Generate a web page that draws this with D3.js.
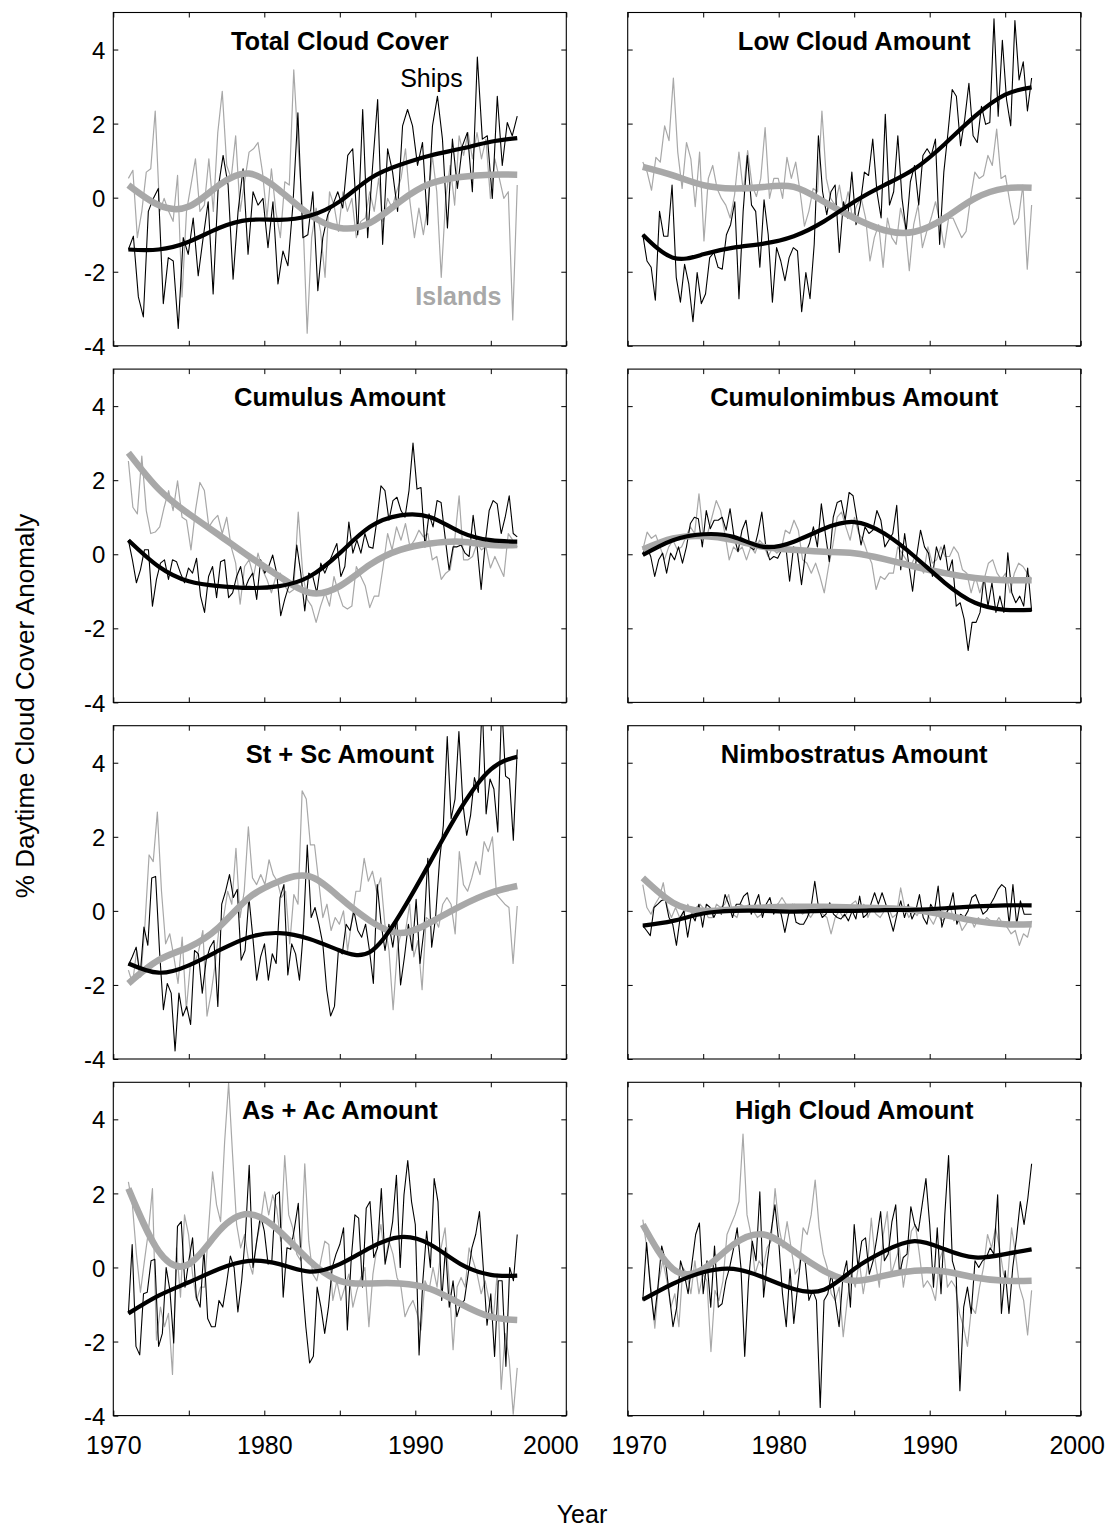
<!DOCTYPE html>
<html>
<head>
<meta charset="utf-8">
<script src="https://cdn.jsdelivr.net/npm/d3@7"></script>
<style>
  body { margin: 0; background: #fff; }
  text { font-family: "Liberation Sans", Arial, Helvetica, sans-serif; }
</style>
</head>
<body>
<div id="chart"></div>
<script>
// Seasonal anomaly series run from 1971 to late 1996
var yearStart = 1971;
var yearEnd = 1996.75;

// Years at which the smoothed (fitted) curves are read
var smoothYears = [1971, 1973, 1975, 1977, 1979, 1981, 1983, 1985, 1987, 1989, 1991, 1993, 1995, 1996.75];

var panelTitles = ["Total Cloud Cover", "Low Cloud Amount", "Cumulus Amount", "Cumulonimbus Amount",
  "St + Sc Amount", "Nimbostratus Amount", "As + Ac Amount", "High Cloud Amount"];

var yTicks = [-4, -2, 0, 2, 4];
var xTicks = [1970, 1975, 1980, 1985, 1990, 1995, 2000];
var xTickLabels = [1970, 1980, 1990, 2000];

// Total cloud cover
var totalShips = [-1.40,-1.04,-2.68,-3.22,-0.37,-0.02,0.25,-2.86,-1.62,-1.71,-3.53,-1.08,-1.53,-0.55,-2.11,-1.08,-0.11,-2.60,0.25,1.14,0.34,-2.20,-0.37,0.78,-1.53,0.16,-0.20,-0.02,-1.35,-0.11,-2.33,-1.44,-1.84,-0.20,2.29,-1.08,-1.00,0.16,-2.51,-1.08,-0.46,-0.20,0.16,-0.28,1.14,1.32,-1.00,2.38,-1.08,0.87,2.65,-1.26,1.32,0.69,-0.37,1.94,2.38,1.94,0.87,1.49,-0.73,1.94,2.74,1.58,-0.82,1.58,0.25,1.40,1.76,0.16,3.80,1.58,1.67,-0.02,2.74,0.87,2.03,1.67,2.20];
var totalIslands = [0.52,0.74,-1.08,-0.37,0.69,0.78,2.34,-0.37,-0.02,-0.37,-0.64,0.60,-2.68,-0.37,0.34,1.05,-0.37,-0.20,1.05,-0.37,1.76,2.87,0.87,0.52,1.67,-0.37,0.43,1.23,1.32,1.49,0.69,-0.55,0.78,-0.37,-1.08,0.43,0.34,3.45,1.32,-0.37,-3.66,-1.08,-0.28,-0.91,-2.15,0.16,-0.20,-0.91,0.16,-0.37,-0.02,-1.08,-0.64,-0.55,0.16,-0.37,0.52,-0.64,-0.02,-0.28,0.16,0.52,1.32,-0.11,-1.08,-0.28,-1.00,-0.20,1.14,0.16,-2.15,-0.02,0.87,-0.20,1.67,1.14,1.76,1.05,1.76,1.05,1.58,-0.02,1.05,0.52,-0.02,0.16,-3.30,0.34];
var totalShipsSmooth = [-1.40,-1.40,-1.19,-0.82,-0.60,-0.60,-0.49,-0.10,0.52,0.89,1.14,1.32,1.51,1.61];
var totalIslandsSmooth = [0.34,-0.20,-0.24,0.34,0.65,0.20,-0.46,-0.82,-0.68,-0.10,0.38,0.56,0.62,0.62];

// Low cloud amount
var lowShips = [-1.00,-1.71,-1.88,-2.77,-0.37,-1.04,-1.04,0.34,-2.15,-2.82,-1.80,-2.33,-3.35,-2.02,-2.86,-2.60,-1.62,-1.48,-1.88,-1.93,-1.00,-0.73,-0.11,-2.73,-0.37,1.14,-0.20,-0.37,-1.88,-0.06,-1.00,-2.82,-1.35,-1.71,-2.24,-1.62,-1.35,-1.44,-3.08,-2.02,-2.73,-1.26,1.67,0.16,-0.46,0.16,0.34,-1.48,-0.11,-0.55,0.69,-0.73,-0.20,0.69,0.60,1.58,0.16,-0.55,2.25,-0.20,0.16,1.67,-0.02,-0.91,0.43,0.87,-0.20,1.14,1.32,1.14,1.58,-1.26,0.69,1.76,2.92,2.74,1.40,2.12,3.09,1.67,1.49,2.47,1.98,2.03,4.83,2.20,4.25,2.65,1.94,4.78,3.18,3.67,2.34,3.23];
var lowIslands = [0.96,0.69,0.20,1.09,0.96,1.94,1.54,3.23,1.23,0.25,1.49,1.05,-0.24,1.23,-1.17,0.52,0.87,0.25,-0.02,-0.20,-0.55,0.07,1.23,0.16,1.27,0.34,0.03,0.52,1.89,-0.02,0.52,0.52,-0.02,1.09,0.52,0.96,0.16,-0.77,-0.37,0.25,0.16,2.34,0.52,-0.02,-0.20,0.34,-0.37,0.16,-0.55,-0.20,-0.02,-0.55,-1.71,-1.08,-0.73,-1.88,-0.55,-1.08,-1.26,-0.28,-0.73,-1.97,-0.73,-0.20,-1.35,-0.91,-0.55,-0.11,-0.64,-1.35,-0.55,-0.55,-0.82,-1.08,-0.91,-0.02,0.69,0.52,0.60,1.14,0.87,1.85,0.52,0.60,-0.11,-0.73,-0.55,0.34,-1.93,-0.20];
var lowShipsSmooth = [-1.00,-1.62,-1.53,-1.35,-1.24,-1.04,-0.64,-0.11,0.34,0.78,1.45,2.20,2.78,2.98];
var lowIslandsSmooth = [0.83,0.60,0.34,0.25,0.29,0.29,-0.11,-0.55,-0.88,-0.92,-0.55,-0.02,0.25,0.27];

// Cumulus amount
var cumulusShips = [0.38,-0.15,-0.77,-0.42,0.12,0.12,-1.40,-0.68,-0.24,-0.15,-0.68,-0.15,-0.20,-0.51,-0.77,-0.37,-0.51,-0.11,-1.13,-1.57,-0.60,-0.33,-1.17,-0.20,-0.15,-1.17,-1.04,-0.60,-0.33,-0.95,-0.68,-0.51,-1.22,-0.15,-0.51,-0.33,-0.02,-0.51,-1.66,-1.22,-0.86,-0.86,0.25,-0.51,-1.53,-0.51,-0.60,-1.04,-0.24,-0.51,-0.24,0.03,0.29,-0.60,-0.33,0.87,0.03,0.38,0.03,0.56,0.20,0.16,0.92,1.85,1.72,0.92,1.45,1.54,1.18,1.00,1.72,3.00,1.76,1.80,0.20,1.09,0.74,1.45,1.40,0.47,-0.42,0.20,0.20,0.25,0.03,-0.06,1.05,0.20,-0.95,0.29,1.18,1.45,1.36,0.56,1.00,1.58,0.56,0.47];
var cumulusIslands = [2.52,1.27,1.09,2.65,1.18,0.56,0.60,0.74,1.27,1.72,1.18,1.98,1.00,0.92,0.12,1.18,1.94,1.72,0.74,0.92,1.05,0.56,1.00,0.20,-0.24,-1.35,-0.33,-0.15,-0.60,0.03,-0.42,-0.68,-1.04,-0.60,-0.51,-0.86,-1.04,-0.95,1.14,-0.51,-1.22,-1.40,-1.84,-1.40,-1.04,-1.40,-0.60,-1.04,-1.40,-1.48,-1.40,-0.33,-0.60,-0.86,-1.44,-1.13,-1.13,-0.33,0.56,0.12,0.74,0.38,0.83,0.20,0.38,0.65,0.47,0.56,-0.15,-0.06,-0.68,-0.51,-0.42,0.38,1.58,-0.15,-0.15,-0.06,0.29,0.12,0.20,-0.37,-0.06,-0.33,-0.60,0.56,0.38,0.20];
var cumulusShipsSmooth = [0.38,-0.33,-0.73,-0.86,-0.91,-0.86,-0.60,0.03,0.74,1.05,1.00,0.60,0.38,0.34];
var cumulusIslandsSmooth = [2.74,1.76,1.09,0.52,-0.06,-0.60,-1.04,-0.86,-0.28,0.12,0.29,0.34,0.25,0.25];

// Cumulonimbus amount
var cbShips = [0.03,0.20,-0.06,-0.60,-0.15,0.03,-0.51,0.03,-0.15,0.20,-0.24,0.20,0.83,1.00,0.96,0.20,1.18,0.69,0.92,0.92,1.00,0.65,1.23,0.47,0.07,0.65,0.92,0.20,0.12,0.56,1.14,0.20,-0.15,-0.06,-0.11,0.12,0.25,-0.73,0.20,0.03,-0.82,0.03,0.29,0.74,0.20,1.36,0.56,-0.20,1.00,1.40,1.45,0.92,1.67,1.58,0.92,0.25,0.74,0.56,0.65,1.18,0.92,0.20,0.38,0.56,1.32,-0.42,0.56,-0.24,-1.00,-0.06,0.65,0.20,0.03,-0.60,0.20,-0.15,0.25,-0.51,-0.15,-1.40,-1.31,-1.75,-2.60,-1.84,-1.84,-1.57,-0.60,-1.40,-0.77,-1.57,-1.13,-1.57,0.04,-1.04,-1.31,-1.13,-1.40,-0.37,-1.53];
var cbIslands = [0.12,0.60,0.43,0.52,0.20,-0.15,0.20,0.38,0.12,0.20,0.47,0.74,0.56,1.63,0.52,0.56,1.00,1.45,1.18,0.56,-0.15,0.20,0.07,0.20,-0.15,0.20,0.03,0.38,0.25,-0.06,0.16,0.03,0.12,0.65,0.56,0.92,0.65,-0.15,-0.24,-0.51,-0.24,-0.60,-1.04,-0.33,0.25,1.00,1.14,0.74,0.38,1.00,0.56,0.38,0.03,-0.24,-0.95,-0.60,-0.68,-0.51,-0.51,0.20,0.03,-0.15,-0.33,-0.06,-0.24,-0.51,0.20,-0.24,-0.15,0.20,-0.06,-0.06,0.20,0.03,-0.42,-0.51,-1.04,-0.60,-1.04,-0.68,-0.24,-0.15,-0.51,-0.68,-0.51,-1.04,-0.51,-0.24,-0.33,-0.51,-0.68];
var cbShipsSmooth = [-0.02,0.38,0.54,0.47,0.20,0.34,0.69,0.87,0.56,-0.06,-0.77,-1.31,-1.50,-1.50];
var cbIslandsSmooth = [0.13,0.43,0.49,0.38,0.20,0.12,0.07,0.03,-0.13,-0.33,-0.51,-0.64,-0.70,-0.70];

// Stratus + stratocumulus amount
var stscShips = [-1.47,-1.24,-0.98,-1.78,-0.44,-0.93,0.89,0.93,-1.07,-2.67,-1.96,-2.22,-3.78,-2.22,-2.84,-2.58,-3.07,-1.07,-1.16,-2.22,-1.33,-0.98,-0.80,-2.58,0.18,0.53,0.98,0.36,0.58,-1.33,-1.07,0.36,-0.71,-1.87,-1.24,-0.89,-1.87,-1.16,-1.42,0.36,0.71,-1.73,-0.89,-1.16,-1.87,-0.53,1.78,-0.18,0.09,-0.36,-0.89,-2.13,-2.84,-2.58,-1.07,-1.16,-0.36,-0.53,0.00,-0.53,-0.71,-0.36,-1.07,-1.96,0.71,-0.36,-1.07,-0.36,-0.98,-0.18,-2.00,-1.24,-0.36,-1.07,0.31,-1.42,-0.53,1.42,-0.98,-0.18,1.33,2.31,4.71,2.49,3.02,4.84,2.93,2.04,2.58,3.60,3.20,5.60,2.62,3.56,3.29,2.13,5.60,3.64,3.56,1.91,4.36];
var stscIslands = [-1.60,-1.96,-1.07,-1.78,-0.36,1.51,1.33,2.67,0.53,-0.89,-0.62,-1.24,-1.96,-0.71,-2.67,-1.42,-1.42,-1.07,-0.53,-2.84,-2.22,-1.42,-0.36,-0.18,0.53,0.18,1.69,-0.18,0.53,2.27,0.89,0.71,0.98,0.71,1.38,0.98,0.80,0.36,0.53,-0.89,0.44,0.18,3.24,3.02,1.78,1.78,0.80,-0.18,0.18,-0.53,-0.18,-0.36,0.00,-1.07,-0.27,0.53,0.53,1.42,0.80,1.07,0.53,0.89,-0.36,-1.07,-2.67,-1.07,-0.53,-0.53,0.18,-1.24,-0.80,-2.13,-0.18,-0.27,-0.18,-0.44,0.18,0.36,0.18,-0.62,1.60,0.71,0.53,0.89,1.33,0.98,1.87,1.60,2.00,0.44,0.31,0.18,0.09,-1.42,0.13];
var stscShipsSmooth = [-1.42,-1.67,-1.47,-1.07,-0.71,-0.60,-0.76,-1.07,-1.11,-0.09,1.33,2.76,3.82,4.16];
var stscIslandsSmooth = [-1.96,-1.33,-0.98,-0.44,0.36,0.80,0.93,0.36,-0.27,-0.60,-0.31,0.13,0.49,0.67];

// Nimbostratus amount
var nsShips = [-0.40,-0.53,-0.67,0.09,0.18,0.28,0.31,-0.18,-0.36,-0.93,-0.18,0.00,-0.71,-0.09,-0.27,0.18,-0.44,0.18,0.09,-0.18,0.04,-0.09,0.44,0.18,-0.18,0.18,0.18,0.40,0.49,-0.09,0.18,0.44,-0.18,0.18,0.36,-0.09,0.18,-0.09,-0.58,-0.09,0.18,-0.31,-0.36,-0.36,-0.18,0.09,0.80,0.09,-0.18,-0.09,0.22,-0.09,-0.18,-0.22,-0.09,-0.27,0.00,-0.22,0.40,-0.18,-0.09,0.18,0.49,0.18,0.49,0.18,-0.18,-0.55,-0.09,0.27,-0.18,0.18,-0.22,0.00,0.44,-0.18,-0.36,0.18,0.00,0.67,-0.44,-0.09,0.09,0.49,-0.36,-0.09,-0.18,0.00,0.36,0.44,0.18,-0.09,0.00,0.18,0.36,0.58,0.71,0.62,-0.36,0.71,-0.36,0.27,-0.09,-0.09,-0.09];
var nsIslands = [0.71,0.09,-0.09,0.18,0.36,0.76,0.09,-0.18,0.09,-0.18,-0.09,0.18,-0.09,0.09,0.18,0.04,-0.18,-0.18,0.18,0.09,0.18,0.44,-0.09,-0.18,0.18,0.09,0.18,0.00,-0.18,-0.09,0.00,0.18,0.04,0.18,0.36,0.18,0.09,0.18,0.09,-0.09,0.00,-0.18,0.00,0.18,-0.09,-0.18,-0.62,-0.18,0.00,-0.18,-0.04,0.18,0.27,0.00,0.18,-0.18,0.09,-0.09,-0.18,0.00,0.09,-0.18,-0.09,0.62,0.09,-0.18,0.00,-0.13,0.09,0.00,-0.18,-0.36,-0.09,-0.27,-0.18,0.18,-0.27,-0.18,-0.53,-0.36,-0.18,-0.44,-0.18,-0.36,-0.18,-0.27,-0.36,-0.18,-0.36,-0.44,-0.62,-0.53,-0.93,-0.62,-0.71,-0.27];
var nsShipsSmooth = [-0.40,-0.27,-0.07,0.00,0.00,-0.02,0.00,0.00,0.02,0.03,0.07,0.12,0.15,0.15];
var nsIslandsSmooth = [0.89,0.22,0.00,0.04,0.09,0.11,0.11,0.09,0.07,0.02,-0.11,-0.27,-0.36,-0.36];

// Altostratus + altocumulus amount
var asacShips = [-1.24,0.62,-2.13,-2.36,-0.71,-0.67,0.18,0.22,-2.13,-1.78,0.00,-0.62,-2.04,1.11,1.24,-0.53,0.18,0.80,-0.80,-1.07,0.49,-1.38,-1.60,-1.60,-0.89,-1.07,-0.44,0.31,0.00,-1.20,-0.36,0.89,2.76,0.00,0.71,1.42,0.98,0.09,0.18,1.96,2.04,-0.80,0.53,0.49,1.07,1.73,-0.36,-1.60,-2.58,-2.40,-0.53,-1.07,-1.78,-1.07,0.00,0.36,0.62,1.07,-1.69,0.18,1.42,1.33,-0.53,1.60,1.78,0.27,0.53,2.13,0.09,0.62,1.24,2.49,0.00,1.96,2.89,1.78,1.16,-2.36,-0.36,0.98,0.00,2.40,1.78,-0.89,0.53,-1.07,-0.36,-1.33,-0.98,-0.89,-0.18,0.53,0.89,1.51,0.00,-1.56,-0.71,-2.40,-0.36,-0.36,-2.67,0.00,-0.36,0.89];
var asacIslands = [2.31,1.69,0.36,-0.67,0.18,0.98,2.13,-1.96,-1.07,-1.60,-1.24,-2.89,0.53,-0.80,1.42,0.89,-0.18,-0.89,-0.53,-0.53,1.07,2.58,1.69,1.24,3.38,4.98,3.02,1.16,0.53,0.89,0.18,-0.18,0.71,1.24,2.04,1.42,1.96,1.60,0.71,3.02,1.42,1.07,0.36,0.18,2.80,0.71,-0.18,-0.36,0.18,0.71,0.62,-0.89,-0.36,-0.89,-0.53,-0.18,-1.07,-0.62,-0.27,0.00,-1.60,-0.18,0.53,1.16,0.18,0.71,0.36,-0.27,-0.53,-1.33,-1.07,-0.89,-1.24,-1.69,-0.36,-0.62,0.00,-0.53,0.53,1.07,-0.36,-2.22,-0.53,-0.27,-0.53,0.53,0.18,-0.18,-0.71,-0.36,-0.89,-1.42,-0.18,-3.29,-1.78,-2.49,-3.96,-2.71];
var asacShipsSmooth = [-1.24,-0.76,-0.40,-0.04,0.18,0.09,-0.11,0.09,0.53,0.82,0.62,0.09,-0.20,-0.22];
var asacIslandsSmooth = [2.13,0.44,0.09,0.98,1.44,0.98,0.18,-0.36,-0.43,-0.43,-0.58,-0.98,-1.33,-1.42];

// High cloud amount
var highShips = [-0.89,0.67,-0.53,-1.42,-0.53,0.58,0.18,-0.71,-1.60,-1.07,0.18,-0.18,-0.71,0.09,0.89,1.20,-0.71,0.18,-1.07,0.58,-1.07,-0.98,-0.36,0.00,0.49,1.07,0.00,-2.40,-0.36,0.71,0.18,2.04,-0.80,0.18,0.98,1.69,0.71,-0.71,-1.60,-0.04,-1.51,-0.53,0.36,0.18,-0.89,-0.62,-0.89,-3.78,-0.89,-0.71,-0.18,-0.89,-1.60,-0.27,0.18,-1.07,1.16,0.00,0.71,0.80,-0.18,0.18,0.80,1.51,0.18,0.36,1.24,1.69,-0.18,0.27,0.36,1.64,1.16,0.98,1.69,2.40,1.16,-0.53,1.07,-0.71,1.42,3.02,0.18,-0.18,-3.33,-1.07,-0.53,-1.24,0.18,0.00,0.18,0.27,0.53,0.36,1.96,-1.24,-0.09,-1.24,0.00,0.80,1.78,1.16,1.87,2.80];
var highIslands = [1.29,0.53,-0.53,-1.64,-0.36,0.18,-0.36,-1.07,-0.71,-1.60,0.00,-0.18,-0.71,0.18,-0.71,-0.18,-0.36,-2.27,-0.62,-0.89,-0.36,0.89,1.16,1.42,1.78,3.60,1.42,0.89,-0.18,0.18,0.00,0.53,0.71,2.13,1.07,0.53,1.24,0.53,-0.18,0.00,1.07,0.89,1.42,2.36,1.07,0.36,0.00,-0.71,-0.89,-0.53,-1.87,-0.89,-0.18,-0.53,0.18,-0.71,0.00,1.33,0.18,-0.53,0.89,1.51,-0.18,0.18,0.53,-0.53,0.18,0.98,1.16,0.36,-0.53,-0.36,-0.53,-0.89,0.18,0.53,-0.53,-0.36,-0.53,-1.24,-1.60,-2.13,-1.07,-1.24,-0.53,0.00,0.89,0.53,1.07,0.53,-0.18,-0.36,1.07,0.36,-0.53,-0.89,-1.82,-0.62];
var highShipsSmooth = [-0.87,-0.44,-0.13,-0.04,-0.27,-0.58,-0.60,-0.04,0.44,0.71,0.49,0.27,0.36,0.49];
var highIslandsSmooth = [1.16,-0.04,-0.04,0.62,0.89,0.44,-0.09,-0.36,-0.22,-0.09,-0.11,-0.27,-0.36,-0.36];

// Panel table (row by row, left then right)
var panels = [
  { ships: totalShips, islands: totalIslands, shipsSmooth: totalShipsSmooth, islandsSmooth: totalIslandsSmooth },
  { ships: lowShips, islands: lowIslands, shipsSmooth: lowShipsSmooth, islandsSmooth: lowIslandsSmooth },
  { ships: cumulusShips, islands: cumulusIslands, shipsSmooth: cumulusShipsSmooth, islandsSmooth: cumulusIslandsSmooth },
  { ships: cbShips, islands: cbIslands, shipsSmooth: cbShipsSmooth, islandsSmooth: cbIslandsSmooth },
  { ships: stscShips, islands: stscIslands, shipsSmooth: stscShipsSmooth, islandsSmooth: stscIslandsSmooth },
  { ships: nsShips, islands: nsIslands, shipsSmooth: nsShipsSmooth, islandsSmooth: nsIslandsSmooth },
  { ships: asacShips, islands: asacIslands, shipsSmooth: asacShipsSmooth, islandsSmooth: asacIslandsSmooth },
  { ships: highShips, islands: highIslands, shipsSmooth: highShipsSmooth, islandsSmooth: highIslandsSmooth }
];
panels.forEach(function(p, i) { p.title = panelTitles[i]; });

// Layout
var width = 1113;
var height = 1529;
var colLeft = [113.3, 627.7];
var rowTop = [12.5, 369.1, 725.7, 1082.3];
var panelW = 453;
var panelH = 333.3;
var gray = "#a8a8a8";

// Scales
var xScale = d3.scaleLinear().domain([1970, 2000]).range([0, panelW]);
var yScale = d3.scaleLinear().domain([-4, 5]).range([panelH, 0]);

var rawLine = d3.line()
  .x(function(d) { return xScale(d[0]); })
  .y(function(d) { return yScale(d[1]); });

var smoothLine = d3.line()
  .curve(d3.curveNatural)
  .x(function(d) { return xScale(d[0]); })
  .y(function(d) { return yScale(d[1]); });

// Spread the seasonal values evenly over the record
function seriesPoints(values) {
  var step = (yearEnd - yearStart) / (values.length - 1);
  return values.map(function(v, i) { return [yearStart + i * step, v]; });
}

function smoothPoints(values) {
  return values.map(function(v, i) { return [smoothYears[i], v]; });
}

var svg = d3.select("#chart").append("svg")
  .attr("width", width)
  .attr("height", height)
  .style("background", "#fff");

panels.forEach(function(p, i) {
  var col = i % 2;
  var row = Math.floor(i / 2);
  var g = svg.append("g")
    .attr("transform", "translate(" + colLeft[col] + "," + rowTop[row] + ")");

  g.append("clipPath").attr("id", "clip" + i)
    .append("rect").attr("width", panelW).attr("height", panelH);

  var plot = g.append("g").attr("clip-path", "url(#clip" + i + ")");

  plot.append("path").datum(seriesPoints(p.islands))
    .attr("d", rawLine).attr("fill", "none")
    .attr("stroke", gray).attr("stroke-width", 1.2).attr("stroke-linejoin", "round");

  plot.append("path").datum(seriesPoints(p.ships))
    .attr("d", rawLine).attr("fill", "none")
    .attr("stroke", "#000").attr("stroke-width", 1.1).attr("stroke-linejoin", "round");

  plot.append("path").datum(smoothPoints(p.islandsSmooth))
    .attr("d", smoothLine).attr("fill", "none")
    .attr("stroke", gray).attr("stroke-width", 6.5);

  plot.append("path").datum(smoothPoints(p.shipsSmooth))
    .attr("d", smoothLine).attr("fill", "none")
    .attr("stroke", "#000").attr("stroke-width", 4.2);

  // Inward ticks on all four sides
  var bottomAxis = d3.axisBottom(xScale).tickValues(xTicks).tickSizeInner(-5).tickSizeOuter(0)
    .tickFormat(function(d) {
      return (row === 3 && xTickLabels.indexOf(d) >= 0) ? d : "";
    });
  var topAxis = d3.axisTop(xScale).tickValues(xTicks).tickSizeInner(-5).tickSizeOuter(0).tickFormat("");
  var leftAxis = d3.axisLeft(yScale).tickValues(yTicks).tickSizeInner(-5).tickSizeOuter(0)
    .tickFormat(function(d) { return col === 0 ? d : ""; });
  var rightAxis = d3.axisRight(yScale).tickValues(yTicks).tickSizeInner(-5).tickSizeOuter(0).tickFormat("");

  var bx = g.append("g").attr("transform", "translate(0," + panelH + ")").call(bottomAxis);
  g.append("g").call(topAxis);
  var ly = g.append("g").call(leftAxis);
  g.append("g").attr("transform", "translate(" + panelW + ",0)").call(rightAxis);

  g.selectAll(".domain").remove();

  bx.selectAll("text")
    .attr("y", 38).attr("dy", null)
    .attr("font-size", 25).attr("font-family", "Liberation Sans, Arial, sans-serif").attr("fill", "#000")
    .attr("dx", function(d) {
      if (col === 0 && d === 2000) return -16;
      if (col === 1 && d === 1970) return 11;
      if (col === 1 && d === 2000) return -4;
      return 0;
    });

  ly.selectAll("text")
    .attr("x", -8).attr("dy", "0.36em")
    .attr("font-size", 24).attr("font-family", "Liberation Sans, Arial, sans-serif").attr("fill", "#000");

  // Frame
  g.append("rect")
    .attr("width", panelW).attr("height", panelH)
    .attr("fill", "none").attr("stroke", "#000").attr("stroke-width", 1.1);

  // Panel title
  g.append("text")
    .attr("x", panelW / 2).attr("y", 37)
    .attr("text-anchor", "middle")
    .attr("font-size", 25.5).attr("font-weight", "bold")
    .text(p.title);

  // Series labels on the first panel
  if (i === 0) {
    g.append("text")
      .attr("x", xScale(1989)).attr("y", yScale(3.0))
      .attr("font-size", 25).attr("fill", "#000")
      .text("Ships");
    g.append("text")
      .attr("x", xScale(1990)).attr("y", yScale(-2.9))
      .attr("font-size", 25).attr("font-weight", "bold").attr("fill", gray)
      .text("Islands");
  }
});

// Axis titles
svg.append("text")
  .attr("x", 582).attr("y", 1523)
  .attr("text-anchor", "middle")
  .attr("font-size", 25)
  .text("Year");

svg.append("text")
  .attr("transform", "translate(34,706) rotate(-90)")
  .attr("text-anchor", "middle")
  .attr("font-size", 26)
  .text("% Daytime Cloud Cover Anomaly");
</script>
</body>
</html>
